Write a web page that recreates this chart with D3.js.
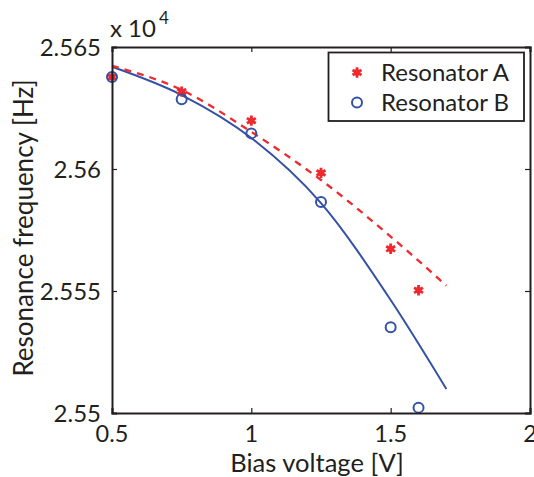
<!DOCTYPE html>
<html><head><meta charset="utf-8">
<script src="https://cdn.jsdelivr.net/npm/d3@7"></script>
<style>body{margin:0;background:#fff}svg{display:block}text{font-family:Lato,"Noto Sans",sans-serif;fill:#231f20}</style>
</head><body><svg id="c" width="534" height="477"></svg>
<script>
// Measured points (x 10^4 Hz)
const biasA = [0.5, 0.75, 1.0, 1.25, 1.5, 1.6];
const freqA = [2.56377, 2.56317, 2.56198, 2.55984, 2.55673, 2.55503];
const biasB = [0.5, 0.75, 1.0, 1.25, 1.5, 1.6];
const freqB = [2.56377, 2.56286, 2.56146, 2.55865, 2.55351, 2.55022];
// Fit curves
const fitV = [0.5, 0.75, 1.0, 1.25, 1.5, 1.7];
const fitA = [2.56423, 2.56324, 2.56152, 2.55955, 2.55723, 2.55522];
const fitB = [2.56419, 2.56303, 2.56127, 2.55860, 2.55463, 2.55098];
const xTicks = [0.5, 1, 1.5, 2];
const yTicks = [2.55, 2.555, 2.56, 2.565];
const xTickLabels = ["0.5", "1", "1.5", "2"];
const yTickLabels = ["2.55", "2.555", "2.56", "2.565"];
const legendNames = ["Resonator A", "Resonator B"];

const RED = "#ee2a2e", BLUE = "#3551a6";
const L = 112, R = 530, T = 47, B = 413;
const svg = d3.select("#c");
const x = d3.scaleLinear().domain([0.5, 2]).range([L, R]);
const y = d3.scaleLinear().domain([2.55, 2.565]).range([B, T]);

const fs = 24;
// fit lines
const line = d3.line().x(d => x(d[0])).y(d => y(d[1])).curve(d3.curveMonotoneX);
svg.append("path").datum(fitV.map((v, i) => [v, fitB[i]])).attr("d", line)
  .attr("fill", "none").attr("stroke", BLUE).attr("stroke-width", 2);
svg.append("path").datum(fitV.map((v, i) => [v, fitA[i]])).attr("d", line)
  .attr("fill", "none").attr("stroke", RED).attr("stroke-width", 2.3).attr("stroke-dasharray", "7,6");

// markers
const star = d3.symbol().type(d3.symbolAsterisk).size(75);
function drawStar(g, cx, cy) {
  g.append("path").attr("d", star()).attr("transform", `translate(${cx},${cy})`)
    .attr("fill", "none").attr("stroke", RED).attr("stroke-width", 2.8);
  g.append("circle").attr("cx", cx).attr("cy", cy).attr("r", 3.2).attr("fill", RED);
}
function drawCircle(g, cx, cy) {
  g.append("circle").attr("cx", cx).attr("cy", cy).attr("r", 5).attr("fill", "none")
    .attr("stroke", BLUE).attr("stroke-width", 2);
}
const mk = svg.append("g");
biasA.forEach((v, i) => drawStar(mk, x(v), y(freqA[i])));
biasB.forEach((v, i) => drawCircle(mk, x(v), y(freqB[i])));

// axes box
const ax = svg.append("g");
const xAxisB = d3.axisBottom(x).tickValues(xTicks).tickSize(-5).tickFormat("");
const xAxisT = d3.axisTop(x).tickValues(xTicks).tickSize(-5).tickFormat("");
const yAxisL = d3.axisLeft(y).tickValues(yTicks).tickSize(-5).tickFormat("");
const yAxisR = d3.axisRight(y).tickValues(yTicks).tickSize(-5).tickFormat("");
[[xAxisB, `translate(0,${B})`], [xAxisT, `translate(0,${T})`], [yAxisL, `translate(${L},0)`], [yAxisR, `translate(${R},0)`]]
  .forEach(([a, t]) => {
    const g = ax.append("g").attr("transform", t).call(a);
    g.selectAll("path.domain").attr("stroke", "#231f20").attr("stroke-width", 2);
    g.selectAll("line").attr("stroke", "#231f20").attr("stroke-width", 1.2);
  });

// tick labels
xTicks.forEach((v, i) => svg.append("text").attr("x", x(v)).attr("y", B + 29)
  .attr("text-anchor", "middle").attr("font-size", 23.5).text(xTickLabels[i]));
yTicks.forEach((v, i) => svg.append("text").attr("x", L - 11).attr("y", y(v) + 8.5)
  .attr("text-anchor", "end").attr("font-size", fs).text(yTickLabels[i]));

// exponent
const ex = svg.append("text").attr("x", 110).attr("y", 37).attr("font-size", fs);
ex.append("tspan").text("x 10");
ex.append("tspan").attr("dy", -13).attr("dx", 3).attr("font-size", 17).text("4");

// axis titles
svg.append("text").attr("x", 317).attr("y", 472).attr("text-anchor", "middle")
  .attr("font-size", 25.5).text("Bias voltage [V]");
svg.append("text").attr("transform", "translate(33,228) rotate(-90)").attr("text-anchor", "middle")
  .attr("font-size", 26).text("Resonance frequency [Hz]");

// legend
const lg = svg.append("g");
lg.append("rect").attr("x", 328.5).attr("y", 52.5).attr("width", 195.5).attr("height", 68.5)
  .attr("fill", "#fff").attr("stroke", "#231f20").attr("stroke-width", 1.8);
drawStar(lg, 357, 72.5);
drawCircle(lg, 357, 102.5);
lg.append("text").attr("x", 381).attr("y", 81).attr("font-size", 24).text(legendNames[0]);
lg.append("text").attr("x", 381).attr("y", 111).attr("font-size", 24).text(legendNames[1]);
</script></body></html>
